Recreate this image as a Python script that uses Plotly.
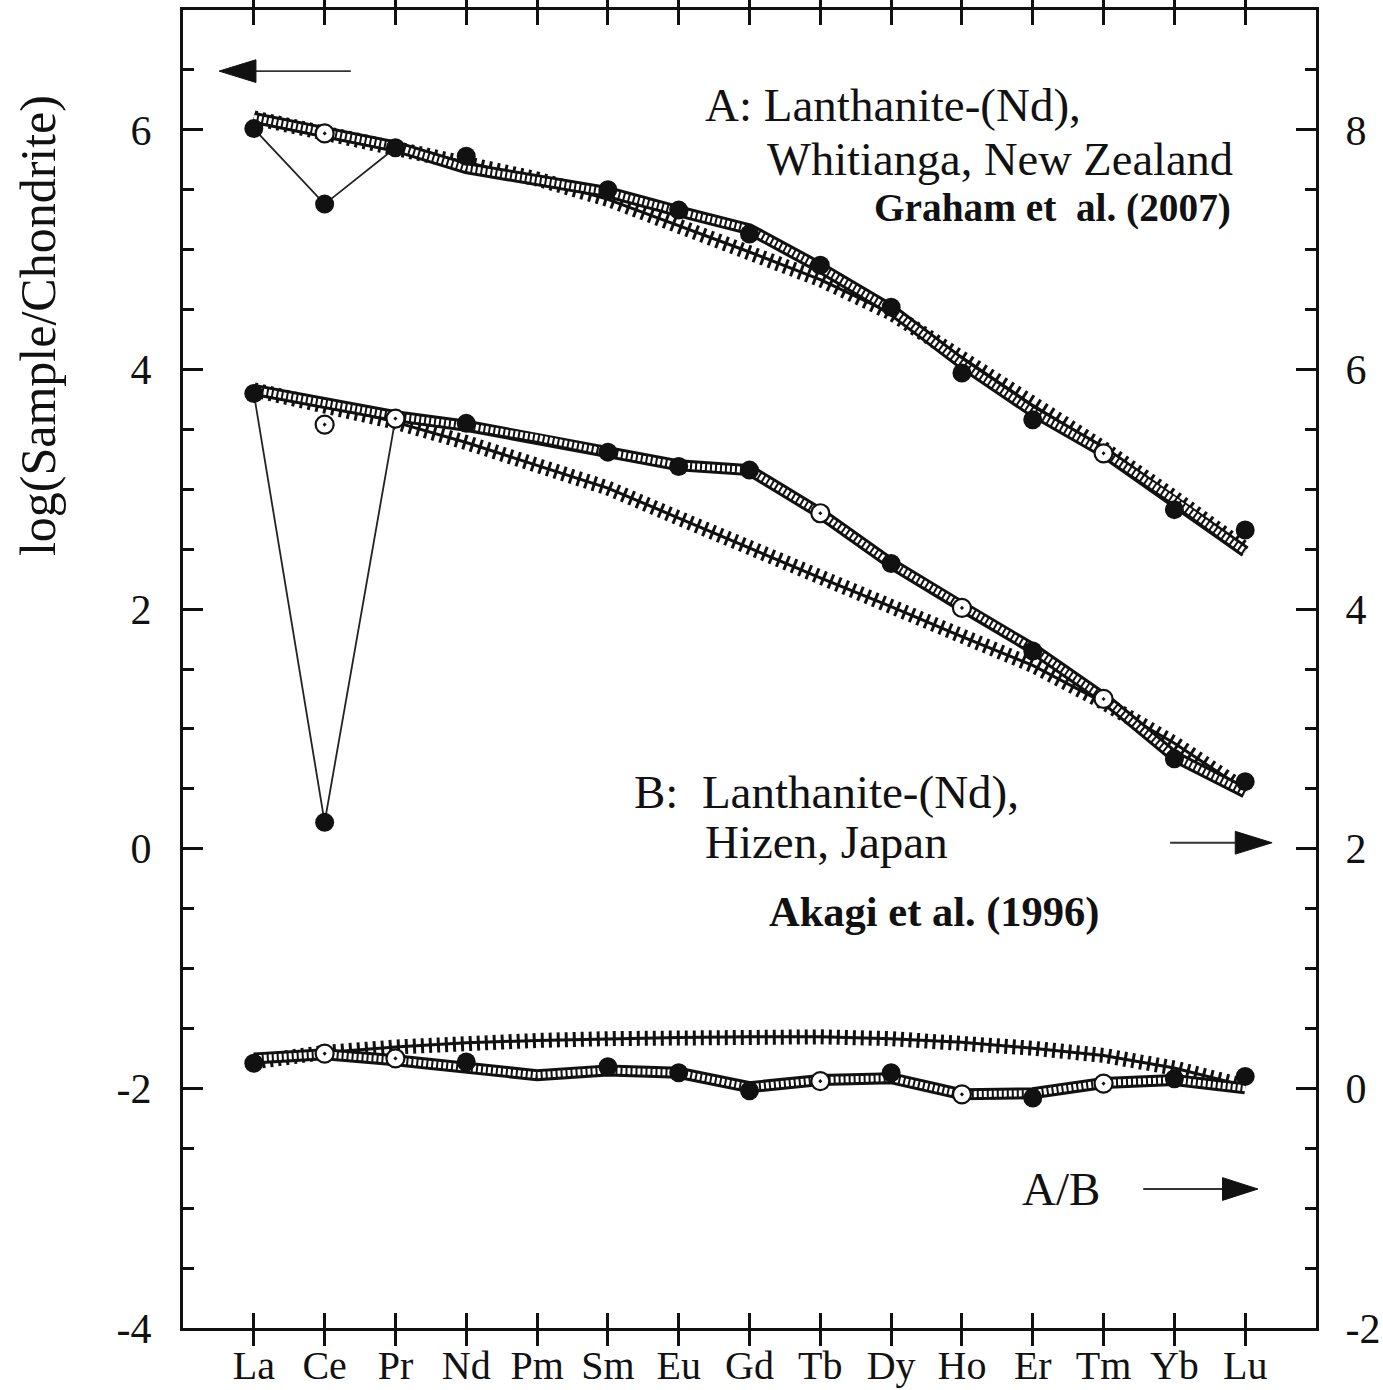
import plotly.graph_objects as go

elements = ["La", "Ce", "Pr", "Nd", "Pm", "Sm", "Eu", "Gd", "Tb", "Dy", "Ho", "Er", "Tm", "Yb", "Lu"]
xi = list(range(len(elements)))

# ---- A: Lanthanite-(Nd), Whitianga (left axis) ----
a_fill_el = ["La", "Ce", "Pr", "Nd", "Sm", "Eu", "Gd", "Tb", "Dy", "Ho", "Er", "Yb", "Lu"]
a_fill_val = [6.01, 5.38, 5.85, 5.78, 5.50, 5.33, 5.13, 4.87, 4.52, 3.97, 3.58, 2.83, 2.66]
a_open_el = ["Ce", "Tm"]
a_open_val = [5.97, 3.30]
a_line_el = ["La", "Ce", "Pr"]
a_line_val = [6.01, 5.38, 5.85]
a_chain = [6.10, 5.98, 5.86, 5.68, 5.58, 5.48, 5.32, 5.17, 4.85, 4.50, 4.05, 3.65, 3.31, 2.91, 2.48]
a_plus = [6.10, 5.98, 5.86, 5.73, 5.59, 5.42, 5.20, 4.98, 4.75, 4.47, 4.10, 3.70, 3.34, 2.93, 2.50]

# ---- B: Lanthanite-(Nd), Hizen (right axis) ----
b_fill_el = ["La", "Ce", "Nd", "Sm", "Eu", "Gd", "Dy", "Er", "Yb", "Lu"]
b_fill_val = [5.80, 2.22, 5.55, 5.31, 5.19, 5.16, 4.38, 3.65, 2.75, 2.56]
b_open_el = ["Ce", "Pr", "Tb", "Ho", "Tm"]
b_open_val = [5.54, 5.59, 4.80, 4.01, 3.25]
b_line_el = ["La", "Ce", "Pr"]
b_line_val = [5.80, 2.22, 5.59]
b_chain = [5.83, 5.72, 5.61, 5.53, 5.43, 5.31, 5.20, 5.16, 4.80, 4.38, 4.02, 3.67, 3.26, 2.77, 2.47]
b_plus = [5.83, 5.71, 5.56, 5.39, 5.20, 5.01, 4.76, 4.51, 4.26, 4.02, 3.77, 3.53, 3.22, 2.88, 2.49]

# ---- A/B ratio (right axis) ----
ab_fill_el = ["La", "Nd", "Sm", "Eu", "Gd", "Dy", "Er", "Yb", "Lu"]
ab_fill_val = [0.21, 0.22, 0.18, 0.13, -0.02, 0.13, -0.08, 0.08, 0.10]
ab_open_el = ["Ce", "Pr", "Tb", "Ho", "Tm"]
ab_open_val = [0.29, 0.25, 0.06, -0.05, 0.04]
ab_chain = [0.25, 0.285, 0.235, 0.17, 0.11, 0.15, 0.13, 0.01, 0.07, 0.085, -0.05, -0.04, 0.045, 0.07, 0.00]
ab_plus = [0.22, 0.30, 0.345, 0.38, 0.40, 0.415, 0.425, 0.43, 0.43, 0.415, 0.385, 0.335, 0.275, 0.17, 0.02]

# axis tick labels (hyphen minus as in the original)
left_tickvals = [-4, -2, 0, 2, 4, 6]
left_ticktext = ["-4", "-2", "0", "2", "4", "6"]
right_tickvals = [-2, 0, 2, 4, 6, 8]
right_ticktext = ["-2", "0", "2", "4", "6", "8"]

idx = {e: i for i, e in enumerate(elements)}
FONT = "Liberation Serif"
INK = "#111111"

fig = go.Figure()


def chain(vals, yaxis):
    fig.add_trace(go.Scatter(x=xi, y=vals, yaxis=yaxis, mode="lines",
                             line=dict(color=INK, width=12), hoverinfo="skip", showlegend=False))
    fig.add_trace(go.Scatter(x=xi, y=vals, yaxis=yaxis, mode="lines",
                             line=dict(color="white", width=6, dash="3px,2px"), hoverinfo="skip", showlegend=False))


def plus(vals, yaxis):
    fig.add_trace(go.Scatter(x=xi, y=vals, yaxis=yaxis, mode="lines",
                             line=dict(color=INK, width=15, dash="3px,5px"), hoverinfo="skip", showlegend=False))
    fig.add_trace(go.Scatter(x=xi, y=vals, yaxis=yaxis, mode="lines",
                             line=dict(color=INK, width=3), hoverinfo="skip", showlegend=False))


def thin(els, vals, yaxis):
    fig.add_trace(go.Scatter(x=[idx[e] for e in els], y=vals, yaxis=yaxis, mode="lines",
                             line=dict(color="#222", width=1.8), hoverinfo="skip", showlegend=False))


def filled(els, vals, yaxis):
    fig.add_trace(go.Scatter(x=[idx[e] for e in els], y=vals, yaxis=yaxis, mode="markers",
                             marker=dict(symbol="circle", size=19, color=INK, line=dict(width=0)),
                             showlegend=False))


def opened(els, vals, yaxis):
    fig.add_trace(go.Scatter(x=[idx[e] for e in els], y=vals, yaxis=yaxis, mode="markers",
                             marker=dict(symbol="circle-dot", size=18, color="white",
                                         line=dict(width=2.2, color=INK)),
                             showlegend=False))


# curves
plus(a_plus, "y")
chain(a_chain, "y")
plus(b_plus, "y2")
chain(b_chain, "y2")
plus(ab_plus, "y2")
chain(ab_chain, "y2")
# thin connecting lines
thin(a_line_el, a_line_val, "y")
thin(b_line_el, b_line_val, "y2")
# markers
opened(a_open_el, a_open_val, "y")
filled(a_fill_el, a_fill_val, "y")
opened(b_open_el, b_open_val, "y2")
filled(b_fill_el, b_fill_val, "y2")
opened(ab_open_el, ab_open_val, "y2")
filled(ab_fill_el, ab_fill_val, "y2")

tickfont = dict(family=FONT, size=42, color=INK)
xtickfont = dict(family=FONT, size=40, color=INK)

fig.update_layout(
    width=1383, height=1390,
    margin=dict(l=183, r=67, t=10, b=62),
    paper_bgcolor="white", plot_bgcolor="white",
    showlegend=False,
    xaxis=dict(range=[-1, 15], tickvals=xi, ticktext=elements, ticks="inside", ticklen=15,
               tickwidth=3, tickcolor=INK, showline=True, linewidth=3, linecolor=INK,
               mirror="allticks", showgrid=False, zeroline=False, tickfont=xtickfont,
               ticklabelstandoff=0, automargin=False),
    yaxis=dict(range=[-4, 7], tickvals=left_tickvals, ticktext=left_ticktext, ticks="inside", ticklen=20,
               tickwidth=3, tickcolor=INK, showline=True, linewidth=3, linecolor=INK, showgrid=False,
               zeroline=False,
               minor=dict(dtick=0.5, tick0=0, ticks="inside", ticklen=11, tickwidth=3, tickcolor=INK),
               tickfont=tickfont, ticklabelstandoff=20, automargin=False),
    yaxis2=dict(range=[-2, 9], tickvals=right_tickvals, ticktext=right_ticktext, overlaying="y", side="right",
                ticks="inside", ticklen=20, tickwidth=3, tickcolor=INK, showline=True, linewidth=3,
                linecolor=INK, showgrid=False, zeroline=False,
                minor=dict(dtick=0.5, tick0=0, ticks="inside", ticklen=11, tickwidth=3, tickcolor=INK),
                tickfont=tickfont, ticklabelstandoff=18, automargin=False),
)

# arrows (line + filled head)
arrows = [
    # (x_tail, x_base, x_tip, y)
    (1.37, 0.03, -0.49, 6.49),
    (12.94, 13.86, 14.38, 0.05),
    (12.56, 13.68, 14.18, -2.84),
]
for xt, xb, xp, yy in arrows:
    fig.add_shape(type="line", xref="x", yref="y", x0=xt, x1=xb, y0=yy, y1=yy,
                  line=dict(color="#333", width=1.8))
    h = 0.095
    fig.add_shape(type="path", xref="x", yref="y",
                  path=f"M {xp} {yy} L {xb} {yy + h} L {xb} {yy - h} Z",
                  fillcolor=INK, line=dict(color=INK, width=1))

texts = [
    ("A: Lanthanite-(Nd),", 6.34, 6.21, False, 47),
    ("Whitianga, New Zealand", 7.22, 5.75, False, 46.5),
    ("Graham et  al. (2007)", 8.73, 5.35, True, 39.3),
    ("B:  Lanthanite-(Nd),", 5.34, 0.47, False, 47),
    ("Hizen, Japan", 6.34, 0.055, False, 47),
    ("Akagi et al. (1996)", 7.25, -0.53, True, 42.5),
    ("A/B", 10.82, -2.84, False, 47),
]
for t, xx, yy, bold, fs in texts:
    fig.add_annotation(x=xx, y=yy, xref="x", yref="y", text=(f"<b>{t}</b>" if bold else t),
                       showarrow=False, xanchor="left", yanchor="middle",
                       font=dict(family=FONT, size=fs, color=INK))

fig.add_annotation(x=-0.128, y=4.37, xref="paper", yref="y", text="log(Sample/Chondrite)",
                   textangle=-90, showarrow=False, xanchor="center", yanchor="middle",
                   font=dict(family=FONT, size=50, color=INK))

fig.write_html("out.html", config={"displayModeBar": False})
